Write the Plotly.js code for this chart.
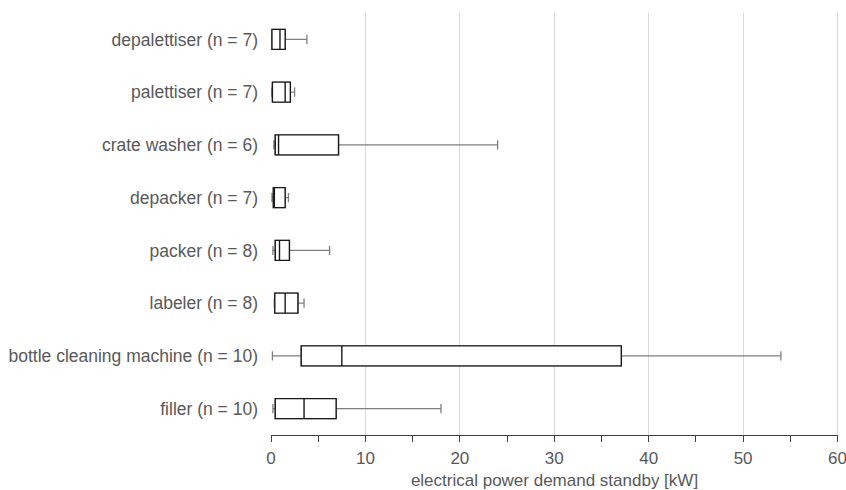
<!DOCTYPE html>
<html>
<head>
<meta charset="utf-8">
<script src="https://cdn.plot.ly/plotly-3.0.1.min.js"></script>
<style>html,body{margin:0;padding:0;background:#fff;}#chart{width:846px;height:490px;}</style>
</head>
<body>
<div id="chart"></div>
<script>
const categories = [
  "depalettiser (n = 7)",
  "palettiser (n = 7)",
  "crate washer (n = 6)",
  "depacker (n = 7)",
  "packer (n = 8)",
  "labeler (n = 8)",
  "bottle cleaning machine (n = 10)",
  "filler (n = 10)"
];
const minValues    = [0.05, 0.05, 0.3, 0.1, 0.2, 0.35, 0.15, 0.2];
const q1Values     = [0.1, 0.15, 0.45, 0.25, 0.45, 0.4, 3.2, 0.45];
const medianValues = [0.95, 1.5, 0.8, 0.35, 0.9, 1.5, 7.5, 3.5];
const q3Values     = [1.5, 2.05, 7.15, 1.5, 1.95, 2.85, 37.1, 6.9];
const maxValues    = [3.8, 2.5, 24, 1.85, 6.2, 3.5, 54, 18];
const xTickValues  = [0, 10, 20, 30, 40, 50, 60];

const whiskerTrace = {
  type: 'box', orientation: 'h', y: categories,
  q1: q1Values, median: medianValues, q3: q3Values,
  lowerfence: minValues, upperfence: maxValues,
  line: {color: '#7f7f7f', width: 1.3}, fillcolor: '#ffffff',
  width: 0.38, whiskerwidth: 0.45, hoverinfo: 'skip', showlegend: false
};
const boxTrace = {
  type: 'box', orientation: 'h', y: categories,
  q1: q1Values, median: medianValues, q3: q3Values,
  lowerfence: q1Values, upperfence: q3Values,
  line: {color: '#1a1a1a', width: 1.4}, fillcolor: '#ffffff',
  width: 0.38, whiskerwidth: 0, hoverinfo: 'skip', showlegend: false
};

const lastTick = xTickValues[xTickValues.length - 1];

const layout = {
  width: 846, height: 490,
  margin: {l: 271, r: 8, t: 13, b: 55},
  paper_bgcolor: '#ffffff', plot_bgcolor: '#ffffff',
  boxmode: 'overlay',
  font: {family: '"Liberation Sans", Arial, sans-serif', color: '#595959', size: 17},
  xaxis: {
    autorange: false, range: [0, 60.05], tickvals: xTickValues, ticktext: xTickValues.map(String),
    showgrid: true, gridcolor: '#d9d9d9', gridwidth: 1, zeroline: false,
    showline: true, linecolor: '#404040', linewidth: 1,
    ticks: 'outside', ticklen: 6, tickcolor: '#404040',
    minor: {dtick: 5, tick0: 0, ticks: 'outside', ticklen: 6, tickcolor: '#404040', showgrid: false},
    ticklabeloverflow: 'allow',
    ticklabelstandoff: 2,
    tickfont: {size: 17, color: '#595959'},
    title: {text: 'electrical power demand standby [kW]', font: {size: 17, color: '#595959'}, standoff: 6},
    fixedrange: true
  },
  yaxis: {
    type: 'category', categoryorder: 'array', categoryarray: categories,
    autorange: false, range: [7.5, -0.5],
    showgrid: false, zeroline: false, showline: false, ticks: '',
    ticklabelstandoff: 12,
    tickfont: {size: 17.5, color: '#595959'},
    fixedrange: true
  },
  shapes: [{
    type: 'line', xref: 'x', yref: 'paper', x0: lastTick, x1: lastTick, y0: 0, y1: 1,
    line: {color: '#d9d9d9', width: 1}, layer: 'below'
  }]
};

Plotly.newPlot('chart', [whiskerTrace, boxTrace], layout, {displayModeBar: false, staticPlot: true});
</script>
</body>
</html>
